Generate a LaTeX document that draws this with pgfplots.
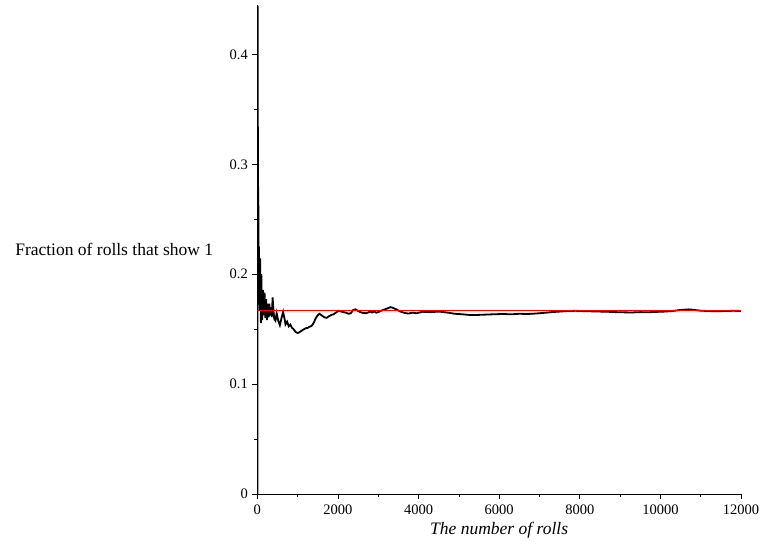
\documentclass[border=0pt]{standalone}
\usepackage{pgfplots}
\pgfplotsset{compat=1.18}
\usepackage{fontspec}
\setmainfont{Liberation Serif}
\begin{document}
\begin{tikzpicture}[x=1pt,y=1pt]
\path[use as bounding box] (0,0) rectangle (764,546);
\begin{axis}[
  at={(257.3pt,52pt)}, anchor=origin,
  scale only axis, width=483.7pt, height=489pt,
  xmin=0, xmax=12000, ymin=0, ymax=0.445,
  axis lines=left, axis line style={-, line width=0.8pt},
  xtick={0,2000,4000,6000,8000,10000,12000},
  minor xtick={1000,3000,5000,7000,9000,11000},
  ytick={0,0.1,0.2,0.3,0.4},
  minor ytick={0.05,0.15,0.25,0.35},
  tick align=outside,
  major tick length=5pt, minor tick length=3pt,
  every tick/.style={black, line width=0.6pt},
  scaled x ticks=false, scaled y ticks=false,
  /pgf/number format/.cd, 1000 sep={}, assume math mode=true,
  /pgfplots/.cd,
  tick label style={font=\fontsize{14.5}{16}\selectfont},
  xticklabel style={yshift=-2pt},
  yticklabel style={xshift=-1pt},
  xlabel={\itshape The number of rolls},
  ylabel={Fraction of rolls that show 1},
  every axis x label/.style={at={(rel axis cs:0.5,0)}, anchor=north, yshift=-25pt, font=\fontsize{17.5}{20}\selectfont},
  every axis y label/.style={at={(rel axis cs:0,0.5)}, anchor=east, xshift=-44pt, rotate=0, inner sep=0pt, font=\fontsize{17.5}{20}\selectfont},
  clip=true,
]
\addplot[black, line width=1.8pt] coordinates {
(1,0) (2,0) (3,0.3333) (5,0.4) (7,0.4286) (9,0.4444) (12,0.3333) (15,0.3333)
(20,0.25) (25,0.28) (30,0.2) (40,0.225) (50,0.2) (60,0.1667) (70,0.2143)
(80,0.175) (90,0.1556) (100,0.2) (110,0.1727) (120,0.1583) (140,0.1857)
(160,0.1625) (180,0.1833) (200,0.16) (220,0.1773) (240,0.1583) (260,0.1731)
(280,0.1607) (300,0.1733) (320,0.1625) (340,0.17) (360,0.1611) (380,0.1789)
(400,0.1675) (420,0.1595) (450,0.1578) (480,0.1646) (520,0.1577) (560,0.1536)
(600,0.16) (640,0.1656) (680,0.1588) (700,0.1543) (740,0.1568) (780,0.1526)
(820,0.1541) (860,0.1512) (900,0.1500) (950,0.1474) (1000,0.1465) (1040,0.1471)
(1080,0.1481) (1120,0.1491) (1160,0.1500) (1200,0.1508) (1250,0.1512)
(1300,0.1523) (1350,0.1530) (1400,0.1557) (1450,0.1600) (1500,0.1627)
(1540,0.1640) (1600,0.1625) (1660,0.1608) (1720,0.1603) (1780,0.1618)
(1840,0.1630) (1900,0.1637) (1960,0.1653) (2020,0.1668) (2080,0.1660)
(2140,0.1655) (2200,0.1650) (2260,0.1640) (2320,0.1645) (2380,0.1675)
(2440,0.1680) (2500,0.1665) (2560,0.1655) (2620,0.1648) (2680,0.1645)
(2740,0.1650) (2800,0.1660) (2850,0.1652) (2900,0.1662) (2950,0.1650) (3000,0.1655) (3100,0.1672)
(3200,0.1685) (3300,0.1700) (3360,0.1695) (3450,0.1680) (3550,0.1660)
(3650,0.1648) (3750,0.1642) (3850,0.1650) (3950,0.1645) (4100,0.1658)
(4300,0.1655) (4500,0.1660) (4700,0.1652) (4900,0.1640) (5100,0.1635)
(5300,0.1628) (5500,0.1630) (5700,0.1633) (5900,0.1636) (6100,0.1638)
(6300,0.1635) (6500,0.1640) (6700,0.1638) (6900,0.1642) (7100,0.1648)
(7300,0.1655) (7500,0.1660) (7700,0.1665) (7900,0.1667) (8100,0.1664)
(8300,0.1662) (8500,0.1660) (8700,0.1658) (8900,0.1655) (9100,0.1653)
(9300,0.1652) (9500,0.1655) (9700,0.1654) (9900,0.1657) (10100,0.1660)
(10300,0.1665) (10500,0.1675) (10700,0.1680) (10800,0.1677) (11000,0.1668)
(11200,0.1665) (11400,0.1663) (11600,0.1665) (11800,0.1667) (12000,0.1666)
};
\addplot[red, line width=1.2pt] coordinates {(0,0.16667) (12000,0.16667)};
\end{axis}
\end{tikzpicture}
\end{document}
